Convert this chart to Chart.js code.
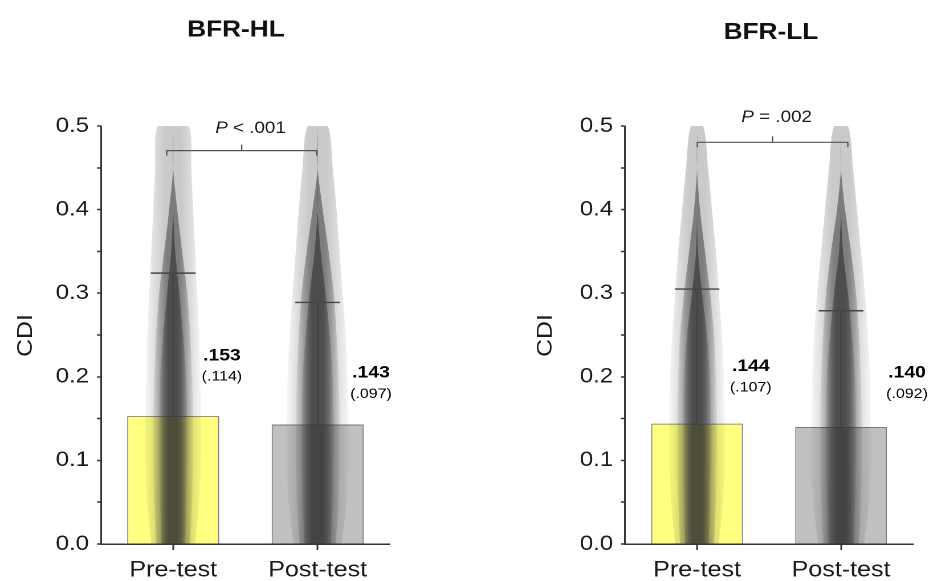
<!DOCTYPE html>
<html>
<head>
<meta charset="utf-8">
<script src="https://cdn.jsdelivr.net/npm/chart.js@4.4.1/dist/chart.umd.min.js"></script>
<style>
  html, body { margin: 0; padding: 0; background: #fff; }
  #wrap { position: relative; width: 929px; height: 581px; overflow: hidden; }
  canvas { position: absolute; top: 0; }
</style>
</head>
<body>
<div id="wrap">
  <canvas id="hl" width="408" height="581" style="left:0px;width:465px;height:581px"></canvas>
  <canvas id="ll" width="407" height="581" style="left:465px;width:464px;height:581px"></canvas>
</div>
<script>
// ---- data ----
const groups = ['Pre-test', 'Post-test'];

const hlMeans = [0.153, 0.143];
const hlSDs = [0.114, 0.097];
const hlErrTops = [0.324, 0.289];
const hlP = '< .001';

const llMeans = [0.144, 0.140];
const llSDs = [0.107, 0.092];
const llErrTops = [0.305, 0.279];
const llP = '= .002';

// spread of the jittered raw points (half width, x-axis units) at each CDI level:
// sparse haze / body / dense core
const cloudLevels = [0, 0.05, 0.1, 0.15, 0.2, 0.25, 0.3, 0.35, 0.4, 0.45, 0.5];
const hlPreOuter  = [.152, .180, .194, .194, .187, .180, .166, .152, .138, .125, .104];
const hlPreMid    = [.118, .131, .138, .138, .131, .118, .097, .062, .028, 0, 0];
const hlPreCore   = [.083, .090, .097, .097, .090, .069, .042, .014, 0, 0, 0];
const hlPostOuter = [.166, .201, .215, .215, .208, .194, .173, .152, .131, .104, .069];
const hlPostMid   = [.125, .145, .152, .152, .145, .131, .111, .076, .035, 0, 0];
const hlPostCore  = [.090, .104, .111, .111, .104, .083, .055, .021, 0, 0, 0];
const llPreOuter  = [.152, .180, .194, .194, .187, .173, .152, .131, .104, .076, .042];
const llPreMid    = [.118, .131, .138, .138, .131, .118, .090, .055, .021, 0, 0];
const llPreCore   = [.083, .090, .097, .097, .090, .069, .035, .007, 0, 0, 0];
const llPostOuter = [.159, .194, .208, .208, .201, .187, .166, .138, .111, .083, .048];
const llPostMid   = [.125, .138, .145, .145, .138, .125, .104, .069, .028, 0, 0];
const llPostCore  = [.090, .097, .104, .104, .097, .076, .048, .014, 0, 0, 0];

// ---- styling ----
const S = 1.14; // canvases are drawn narrow and shown 1.14x wider, like the original figure
const FONT = '"Liberation Sans", Arial, Helvetica, sans-serif';
const barColors = ['#ffff80', '#c0c0c0'];
const bandAlpha = [0.26, 0.50, 0.64];
const capHalf = 0.155;

function violin(center, w) {
  const right = cloudLevels.map((y, k) => ({x: center + w[k], y: y}));
  const left = cloudLevels.map((y, k) => ({x: center - w[k], y: y})).reverse();
  return right.concat(left);
}

// soft-edged fill: darkest in the middle of the cloud
function cloudFill(center, w, a) {
  return function (c) {
    const chart = c.chart;
    const xs = chart.scales.x;
    const fallback = 'rgba(50,50,50,' + a + ')';
    if (!xs || !chart.chartArea) return fallback;
    const mid = xs.getPixelForValue(center);
    const half = xs.getPixelForValue(center + Math.max.apply(null, w)) - mid;
    if (!isFinite(half) || half <= 0) return fallback;
    const g = chart.ctx.createLinearGradient(mid - half, 0, mid + half, 0);
    const col = k => 'rgba(50,50,50,' + (a * k).toFixed(3) + ')';
    g.addColorStop(0, col(0.15));
    g.addColorStop(0.2, col(0.7));
    g.addColorStop(0.35, col(1));
    g.addColorStop(0.65, col(1));
    g.addColorStop(0.8, col(0.7));
    g.addColorStop(1, col(0.15));
    return g;
  };
}

function fmt(v) { return v.toFixed(3).replace(/^0/, ''); }

function textAt(ctx, str, x, y, size, font, align) {
  ctx.font = font + ' ' + size + 'px ' + FONT;
  ctx.textAlign = align || 'center';
  ctx.textBaseline = 'alphabetic';
  ctx.fillText(str, x, y + size * 0.358);
}

const extras = {
  id: 'extras',
  afterDatasetsDraw(chart, args, o) {
    const ctx = chart.ctx;
    const xs = chart.scales.x, ys = chart.scales.y;
    ctx.save();
    // error bars
    ctx.strokeStyle = '#444';
    ctx.lineWidth = 1.4;
    o.means.forEach((m, i) => {
      const x = xs.getPixelForValue(i);
      const y0 = ys.getPixelForValue(m);
      const y1 = ys.getPixelForValue(o.errTops[i]);
      const h = xs.getPixelForValue(i + capHalf) - x;
      ctx.beginPath();
      ctx.moveTo(x, y0); ctx.lineTo(x, y1);
      ctx.moveTo(x - h, y1); ctx.lineTo(x + h, y1);
      ctx.stroke();
    });
    // significance bracket
    const bx0 = xs.getPixelForValue(o.bracketX[0]);
    const bx1 = xs.getPixelForValue(o.bracketX[1]);
    const by = ys.getPixelForValue(o.bracketY);
    const bm = (bx0 + bx1) / 2;
    ctx.strokeStyle = '#555';
    ctx.lineWidth = 1.2;
    ctx.beginPath();
    ctx.moveTo(bx0, by + 5); ctx.lineTo(bx0, by); ctx.lineTo(bx1, by); ctx.lineTo(bx1, by + 5);
    ctx.moveTo(bm, by); ctx.lineTo(bm, by - 6);
    ctx.stroke();
    // P value
    ctx.fillStyle = '#1a1a1a';
    const px = xs.getPixelForValue(o.pAt[0]), py = ys.getPixelForValue(o.pAt[1]);
    ctx.font = 'italic 16.5px ' + FONT;
    const w1 = ctx.measureText('P').width;
    ctx.font = '16.5px ' + FONT;
    const rest = ' ' + o.pText;
    const w2 = ctx.measureText(rest).width;
    const x0 = px - (w1 + w2) / 2;
    textAt(ctx, 'P', x0, py, 16.5, 'italic', 'left');
    textAt(ctx, rest, x0 + w1, py, 16.5, 'normal', 'left');
    // mean (SD) labels
    ctx.fillStyle = '#000';
    o.means.forEach((m, i) => {
      const lx = xs.getPixelForValue(o.labelAt[i][0]);
      const ly = ys.getPixelForValue(o.labelAt[i][1]);
      textAt(ctx, fmt(m), lx, ly, 17, 'bold');
      textAt(ctx, '(' + fmt(o.sds[i]) + ')', lx, ly + 21.5, 14, 'normal');
    });
    ctx.restore();
  },
  afterDraw(chart, args, o) {
    const ctx = chart.ctx;
    ctx.save();
    ctx.fillStyle = '#111';
    textAt(ctx, o.title, o.titleAt[0], o.titleAt[1], 23, 'bold');
    // y axis title
    ctx.translate(o.cdiAt[0], o.cdiAt[1]);
    ctx.scale(1 / S, 1);
    ctx.rotate(-Math.PI / 2);
    ctx.scale(1.18, 1);
    ctx.fillStyle = '#1a1a1a';
    textAt(ctx, 'CDI', 0, 0, 21, 'normal');
    ctx.restore();
  }
};

function makePanel(id, p) {
  const datasets = [{
    type: 'bar',
    data: p.means.map((m, i) => ({x: i, y: m})),
    backgroundColor: barColors,
    borderColor: '#777',
    borderWidth: 1,
    barPercentage: 0.637,
    categoryPercentage: 1,
    order: 5
  }];
  p.spreads.forEach((bands, i) => {
    bands.forEach((w, b) => {
      datasets.push({
        type: 'line',
        data: violin(i, w),
        fill: 'shape',
        backgroundColor: cloudFill(i, w, bandAlpha[b]),
        borderColor: 'rgba(0,0,0,0)',
        borderWidth: 0,
        pointRadius: 0,
        tension: 0.25,
        order: 4 - b
      });
    });
  });

  new Chart(document.getElementById(id), {
    type: 'bar',
    data: { datasets: datasets },
    plugins: [extras],
    options: {
      responsive: false,
      devicePixelRatio: 2,
      animation: false,
      layout: { padding: { top: 126, right: p.padRight, left: 0, bottom: 0 } },
      plugins: {
        legend: { display: false },
        tooltip: { enabled: false },
        extras: p
      },
      scales: {
        x: {
          type: 'linear', min: -0.5, max: 1.5, offset: false,
          afterBuildTicks: s => { s.ticks = groups.map((g, i) => ({value: i})); },
          afterFit: s => { s.height = 37; },
          ticks: {
            callback: v => groups[v],
            font: { family: FONT, size: 22 }, color: '#1a1a1a',
            padding: 7, maxRotation: 0, autoSkip: false
          },
          grid: { drawOnChartArea: false, tickLength: 6, tickColor: '#333', tickWidth: 1.5, offset: false },
          border: { color: '#333', width: 1.5 }
        },
        y: {
          min: 0, max: 0.5,
          afterFit: s => { s.width = p.yWidth; },
          ticks: {
            stepSize: 0.05,
            callback: v => (Math.round(v * 100) % 10 === 0 ? v.toFixed(1) : ''),
            font: { family: FONT, size: 21 }, color: '#1a1a1a',
            padding: 7, autoSkip: false
          },
          grid: { drawOnChartArea: false, tickLength: 3.5, tickColor: '#333', tickWidth: 1.5 },
          border: { color: '#333', width: 1.5 }
        }
      }
    }
  });
}

makePanel('hl', {
  title: 'BFR-HL', titleAt: [207, 28.3], cdiAt: [21.2, 335.5],
  means: hlMeans, sds: hlSDs, errTops: hlErrTops, pText: hlP,
  spreads: [[hlPreOuter, hlPreMid, hlPreCore], [hlPostOuter, hlPostMid, hlPostCore]],
  bracketX: [-0.045, 0.993], bracketY: 0.4705, pAt: [0.535, 0.4988],
  labelAt: [[0.337, 0.227], [1.369, 0.2066]],
  yWidth: 88.6, padRight: 65.9
});

makePanel('ll', {
  title: 'BFR-LL', titleAt: [268.4, 30.7], cdiAt: [69.5, 335.5],
  means: llMeans, sds: llSDs, errTops: llErrTops, pText: llP,
  spreads: [[llPreOuter, llPreMid, llPreCore], [llPostOuter, llPostMid, llPostCore]],
  bracketX: [0.002, 1.047], bracketY: 0.4805, pAt: [0.553, 0.5117],
  labelAt: [[0.373, 0.214], [1.458, 0.2063]],
  yWidth: 140.4, padRight: 14
});
</script>
</body>
</html>
